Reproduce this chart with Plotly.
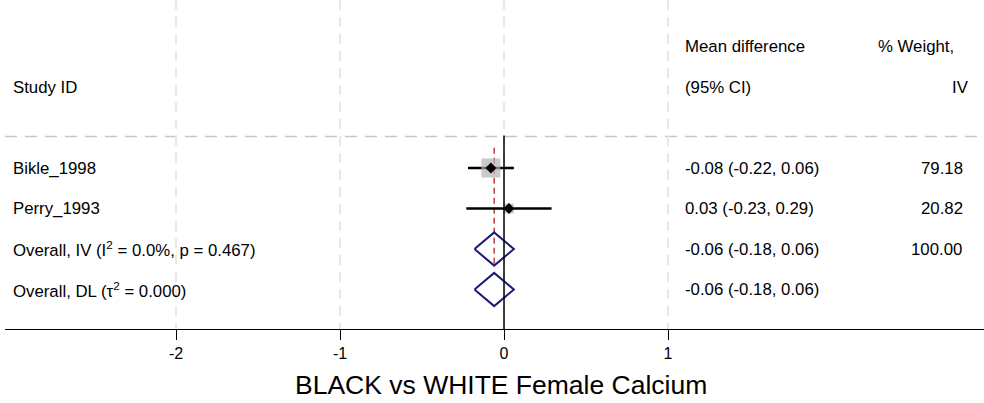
import plotly.graph_objects as go

# Study-level data
studies = ["Bikle_1998", "Perry_1993"]
md = [-0.08, 0.03]
ci_lo = [-0.22, -0.23]
ci_hi = [0.06, 0.29]
weights = [79.18, 20.82]

# Pooled estimates (fixed IV and random DL)
pooled_labels = ["Overall, IV (I<sup>2</sup> = 0.0%, p = 0.467)",
                 "Overall, DL (τ<sup>2</sup> = 0.000)"]
pooled_md = [-0.06, -0.06]
pooled_lo = [-0.18, -0.18]
pooled_hi = [0.06, 0.06]
pooled_weight = ["100.00", ""]

tick_vals = [-2, -1, 0, 1]
x_title = "BLACK vs WHITE Female Calcium"

FONT = "Liberation Sans, Arial, sans-serif"
TXT = 16.8
NAVY = "#1a1a78"

# column positions on the x scale
X_LABEL = -3.007
X_CI = 1.093
X_W = 2.812

fig = go.Figure()

# study rows
n = len(studies)
rows = list(range(n))
for i in rows:
    fig.add_trace(go.Scatter(x=[ci_lo[i], ci_hi[i]], y=[i, i], mode="lines",
                             line=dict(color="black", width=2.5), hoverinfo="skip"))

max_w = max(weights)
fig.add_trace(go.Scatter(
    x=md, y=rows, mode="markers",
    marker=dict(symbol="square", color="#b3b3b3",
                size=[19 * (w / max_w) ** 0.5 for w in weights], line=dict(width=0)),
    hoverinfo="skip"))
fig.add_trace(go.Scatter(x=md, y=rows, mode="markers",
                         marker=dict(symbol="diamond", color="black", size=8.5),
                         hoverinfo="skip"))

# pooled diamonds
H = 0.41
for j in range(len(pooled_md)):
    r = n + j
    fig.add_trace(go.Scatter(
        x=[pooled_lo[j], pooled_md[j], pooled_hi[j], pooled_md[j], pooled_lo[j]],
        y=[r, r - H, r, r + H, r], mode="lines",
        line=dict(color=NAVY, width=2), hoverinfo="skip"))

shapes = []
# header separator
shapes.append(dict(type="line", xref="paper", x0=0, x1=1, yref="y", y0=-0.78, y1=-0.78,
                   line=dict(color="#c6c6c6", width=1.5, dash="12px,8px"), layer="below"))
# line of no effect
shapes.append(dict(type="line", xref="x", x0=0, x1=0, yref="y", y0=-0.8, y1=3.975,
                   line=dict(color="black", width=1.5)))
# fixed-effect estimate reference line
shapes.append(dict(type="line", xref="x", x0=pooled_md[0], x1=pooled_md[0], yref="y",
                   y0=-0.5, y1=n + H, line=dict(color="#b0202c", width=1.3, dash="6px,4px"),
                   layer="below"))

ann = []
def txt(x, y, s, anchor="left"):
    ann.append(dict(x=x, y=y, xref="x", yref="y", text=s, showarrow=False,
                    xanchor=anchor, yanchor="middle",
                    font=dict(family=FONT, size=TXT, color="black")))

txt(X_LABEL, -2, "Study ID")
txt(X_CI, -3, "Mean difference")
txt(X_CI, -2, "(95% CI)")
txt(2.27, -3, "% Weight,")
txt(2.845, -2, "IV", "right")

for i in rows:
    txt(X_LABEL, i, studies[i])
    txt(X_CI, i, f"{md[i]:.2f} ({ci_lo[i]:.2f}, {ci_hi[i]:.2f})")
    txt(X_W, i, f"{weights[i]:.2f}", "right")
for j in range(len(pooled_md)):
    r = n + j
    txt(X_LABEL, r, pooled_labels[j])
    txt(X_CI, r, f"{pooled_md[j]:.2f} ({pooled_lo[j]:.2f}, {pooled_hi[j]:.2f})")
    if pooled_weight[j]:
        txt(X_W - 0.01, r, pooled_weight[j], "right")

# axis title
ann.append(dict(x=-0.02, y=0, xref="x", yref="paper", text=x_title, showarrow=False,
                xanchor="center", yanchor="middle", yshift=-56,
                font=dict(family=FONT, size=26.5, color="black")))

fig.update_layout(
    width=984, height=403,
    margin=dict(l=5, r=0, t=0, b=74),
    paper_bgcolor="white", plot_bgcolor="white",
    showlegend=False,
    shapes=shapes, annotations=ann,
    xaxis=dict(range=[-3.043, 2.927], tickvals=tick_vals,
               ticktext=[str(v) for v in tick_vals],
               showgrid=True, gridcolor="#e8e8e8", gridwidth=1.5, griddash="10px,7px",
               zeroline=False, showline=True, linecolor="black", linewidth=1.3,
               ticks="outside", ticklen=10, tickwidth=1, tickcolor="black",
               tickfont=dict(family=FONT, size=16, color="black"), fixedrange=True),
    yaxis=dict(range=[3.975, -4.148], visible=False, showgrid=False, zeroline=False,
               fixedrange=True),
)

fig.write_html("out.html")
